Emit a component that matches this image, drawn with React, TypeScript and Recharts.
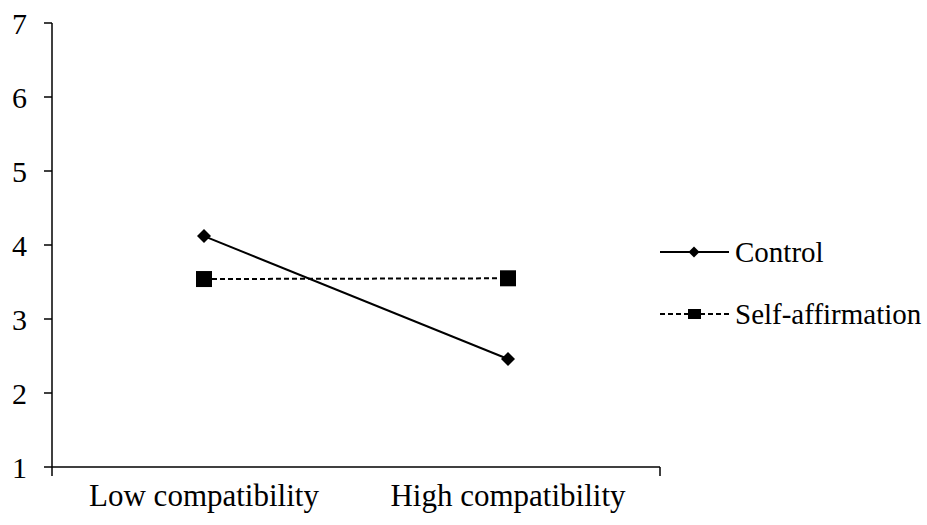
import { LineChart, Line, XAxis, YAxis, Legend } from "recharts";

const conditions = ["Low compatibility", "High compatibility"];
const control = [4.12, 2.46];
const selfAffirmation = [3.54, 3.55];
const yTicks = [1, 2, 3, 4, 5, 6, 7];
const edgeTicks = [0, 1, 2];

const data = conditions.map((condition, i) => ({
  condition,
  control: control[i],
  selfAffirmation: selfAffirmation[i],
}));

const FONT = '"Liberation Serif", "Times New Roman", serif';

const Diamond = ({ cx, cy, r = 6 }: any) => (
  <polygon
    points={`${cx},${cy - r} ${cx + r},${cy} ${cx},${cy + r} ${cx - r},${cy}`}
    fill="#000"
  />
);

const Square = ({ cx, cy, s = 8 }: any) => (
  <rect x={cx - s} y={cy - s} width={s * 2} height={s * 2} fill="#000" />
);

const LegendBox = ({ payload }: any) => (
  <svg width={272} height={120} style={{ display: "block" }}>
    {(payload || []).map((entry: any, i: number) => {
      const y = 27 + i * 62;
      const dashed = entry.dataKey === "selfAffirmation";
      return (
        <g key={entry.dataKey}>
          <line
            x1={5}
            x2={74}
            y1={y}
            y2={y}
            stroke="#000"
            strokeWidth={2}
            strokeDasharray={dashed ? "5 3" : undefined}
          />
          {dashed ? (
            <rect x={33} y={y - 5} width={13} height={10} fill="#000" />
          ) : (
            <Diamond cx={39} cy={y} r={5.5} />
          )}
          <text
            x={80}
            y={y}
            dy="0.35em"
            fontSize={29}
            fontFamily={FONT}
            fill="#000"
          >
            {entry.value}
          </text>
        </g>
      );
    })}
  </svg>
);

export default function App() {
  const yTick = { fill: "#000", fontSize: 30, fontFamily: FONT };
  const xTick = { fill: "#000", fontSize: 31, fontFamily: FONT };
  return (
    <div style={{ position: "absolute", left: 0, top: 0, background: "#fff" }}>
      <LineChart
        width={927}
        height={525}
        data={data}
        margin={{ top: 23, right: 267, bottom: 0, left: 0 }}
      >
        <XAxis
          xAxisId="a-edge"
          type="number"
          domain={[0, 2]}
          ticks={edgeTicks}
          allowDataOverflow
          tickFormatter={() => ""}
          tickSize={9}
          height={1}
          axisLine={{ stroke: "#000", strokeWidth: 1.5 }}
          tickLine={{ stroke: "#000", strokeWidth: 1.5 }}
        />
        <XAxis
          xAxisId="b-cat"
          dataKey="condition"
          scale="band"
          axisLine={false}
          tickLine={false}
          tickSize={0}
          tickMargin={16}
          height={57}
          tick={xTick}
          interval={0}
        />
        <YAxis
          domain={[1, 7]}
          ticks={yTicks}
          width={52}
          tickSize={8}
          tickMargin={17}
          tick={yTick}
          axisLine={{ stroke: "#000", strokeWidth: 1.5 }}
          tickLine={{ stroke: "#000", strokeWidth: 1.5 }}
        />
        <Legend
          layout="vertical"
          align="center"
          verticalAlign="middle"
          wrapperStyle={{ left: 655, top: 225, width: 272 }}
          content={LegendBox}
        />
        <Line
          xAxisId="b-cat"
          dataKey="control"
          name="Control"
          stroke="#000"
          strokeWidth={2}
          dot={(p: any) => <Diamond key={p.index} cx={p.cx} cy={p.cy} r={7} />}
          isAnimationActive={false}
        />
        <Line
          xAxisId="b-cat"
          dataKey="selfAffirmation"
          name="Self-affirmation"
          stroke="#000"
          strokeWidth={2}
          strokeDasharray="5 3"
          dot={(p: any) => <Square key={p.index} cx={p.cx} cy={p.cy} s={8} />}
          isAnimationActive={false}
        />
      </LineChart>
    </div>
  );
}
